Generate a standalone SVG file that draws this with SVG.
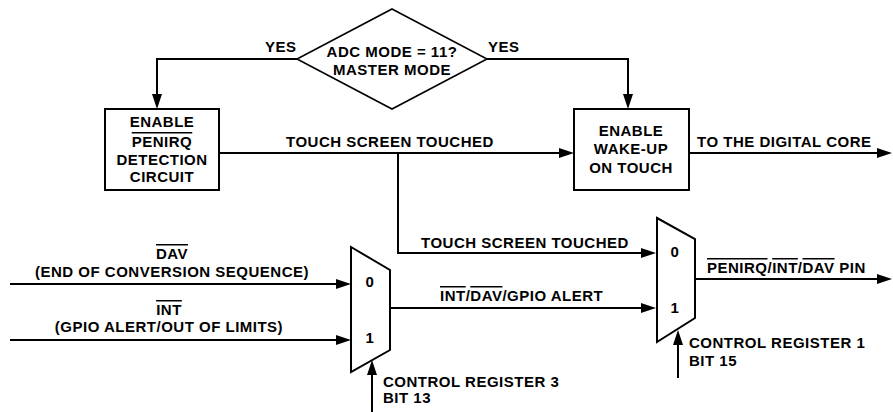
<svg xmlns="http://www.w3.org/2000/svg" width="893" height="412" viewBox="0 0 893 412">
<style>
text{font-family:"Liberation Sans",Arial,sans-serif;font-weight:bold;font-size:15px;letter-spacing:0.5px;fill:#000}
.m{text-anchor:middle}
.ov{text-decoration:overline}
.shape{fill:#fff;stroke:#000;stroke-width:2}
.dia{fill:#fff;stroke:#000;stroke-width:1.6}
.wire{fill:none;stroke:#000;stroke-width:2;marker-end:url(#arr)}
</style>
<defs>
<marker id="arr" markerUnits="userSpaceOnUse" markerWidth="15" markerHeight="10" refX="10" refY="5" orient="auto">
<path d="M0,0 L15,5 L0,10 Z" fill="#000"/>
</marker>
</defs>
<rect width="893" height="412" fill="#fff"/>
<g id="connectors">
<path class="wire" d="M297,59 H157 V104"/>
<path class="wire" d="M487,59 H628 V104"/>
<path class="wire" d="M219,153 H569"/>
<path class="wire" d="M398,153 V253 H651"/>
<path class="wire" d="M689,153 H887"/>
<path class="wire" d="M10,284 H346"/>
<path class="wire" d="M10,340 H346"/>
<path class="wire" d="M390,308 H651"/>
<path class="wire" d="M695,279 H887"/>
<path class="wire" d="M372,412 V365"/>
<path class="wire" d="M678,378 V335"/>
<text x="265" y="52">YES</text>
<text x="488" y="52">YES</text>
<text x="286" y="147">TOUCH SCREEN TOUCHED</text>
<text x="421" y="248">TOUCH SCREEN TOUCHED</text>
<text x="697" y="147">TO THE DIGITAL CORE</text>
<text class="m" x="172" y="259"><tspan class="ov">DAV</tspan></text>
<text class="m" x="172" y="277">(END OF CONVERSION SEQUENCE)</text>
<text class="m" x="169" y="315"><tspan class="ov">INT</tspan></text>
<text class="m" x="169" y="332">(GPIO ALERT/OUT OF LIMITS)</text>
<text x="440" y="301"><tspan class="ov">INT</tspan>/<tspan class="ov">DAV</tspan>/GPIO ALERT</text>
<text x="707" y="273"><tspan class="ov">PENIRQ</tspan>/<tspan class="ov">INT</tspan>/<tspan class="ov">DAV</tspan> PIN</text>
<text x="383" y="387">CONTROL REGISTER 3</text>
<text x="383" y="403">BIT 13</text>
<text x="689" y="348">CONTROL REGISTER 1</text>
<text x="689" y="366">BIT 15</text>
</g>
<g id="decision">
<polygon class="dia" points="392,9 487,59 392,109 297,59"/>
<text class="m" x="392" y="57">ADC MODE = 11?</text>
<text class="m" x="392" y="75">MASTER MODE</text>
</g>
<g id="penirq-detection">
<rect class="shape" x="105" y="109" width="114" height="81"/>
<text class="m" x="162" y="127">ENABLE</text>
<text class="m" x="162" y="147"><tspan class="ov">PENIRQ</tspan></text>
<text class="m" x="162" y="165">DETECTION</text>
<text class="m" x="162" y="182">CIRCUIT</text>
</g>
<g id="wake-up">
<rect class="shape" x="574" y="109" width="115" height="81"/>
<text class="m" x="631" y="136">ENABLE</text>
<text class="m" x="631" y="154">WAKE-UP</text>
<text class="m" x="631" y="173">ON TOUCH</text>
</g>
<g id="mux1">
<polygon class="shape" points="351,247 390,270 390,350 351,372"/>
<text class="m" x="370" y="287">0</text>
<text class="m" x="370" y="343">1</text>
</g>
<g id="mux2">
<polygon class="shape" points="657,218 695,239 695,318 657,342"/>
<text class="m" x="675" y="257">0</text>
<text class="m" x="675" y="313">1</text>
</g>
</svg>
